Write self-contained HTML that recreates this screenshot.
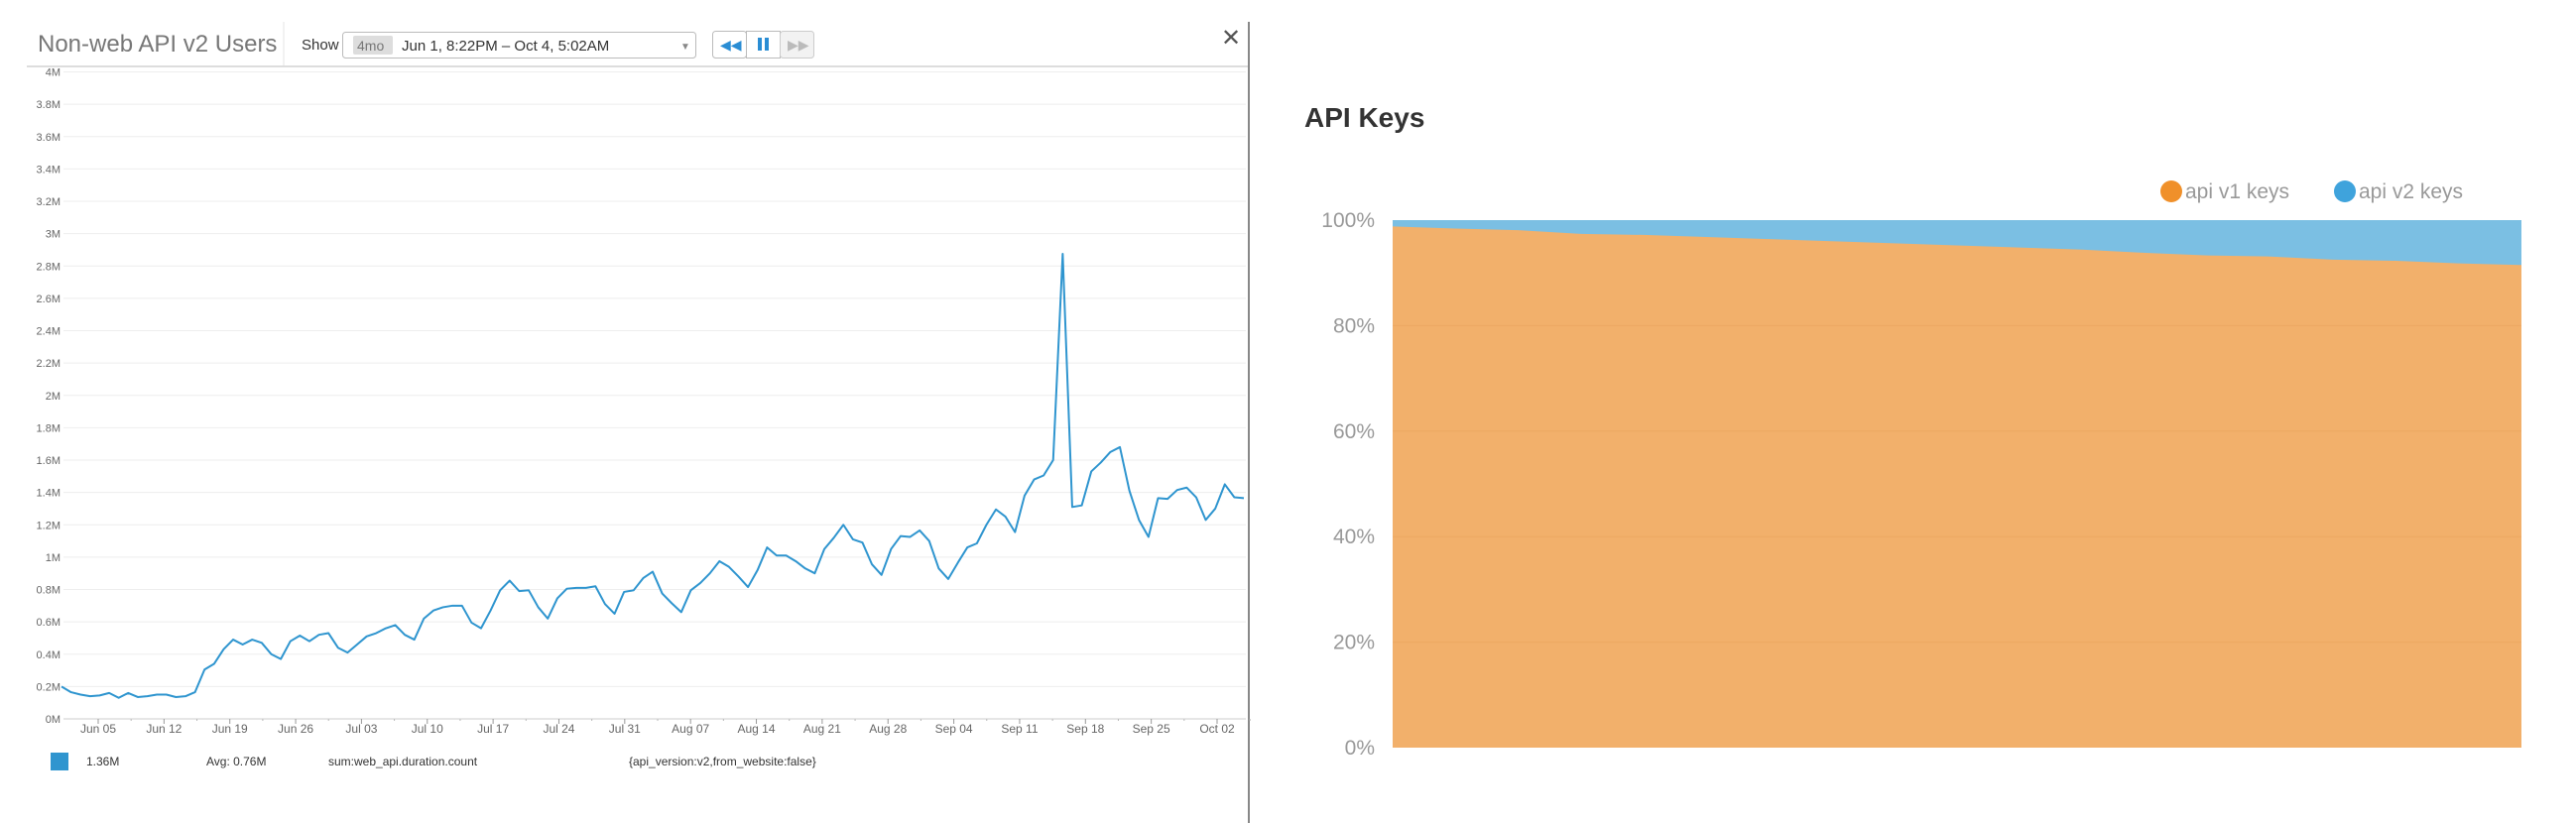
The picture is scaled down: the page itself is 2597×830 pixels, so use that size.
<!DOCTYPE html>
<html><head><meta charset="utf-8"><style>
html,body{margin:0;padding:0;background:#fff;width:2597px;height:830px;overflow:hidden;font-family:"Liberation Sans",sans-serif}
svg{position:absolute;left:0;top:0}
</style></head><body>
<svg id="s" width="2597" height="830">
<g>
<text x="38" y="52" font-size="24" fill="#777">Non-web API v2 Users</text>
<line x1="286" y1="22" x2="286" y2="66" stroke="#e4e4e4"/>
<text x="304" y="50" font-size="15" fill="#333">Show</text>
<rect x="345.5" y="32.5" width="356" height="26" rx="3" fill="#fff" stroke="#bbb"/>
<rect x="356" y="36" width="40" height="19" rx="2" fill="#ddd"/>
<text x="360" y="51" font-size="14" fill="#777">4mo</text>
<text x="405" y="51" font-size="15" fill="#333">Jun 1, 8:22PM – Oct 4, 5:02AM</text>
<text x="686" y="50" font-size="10" fill="#888">▼</text>
<rect x="718.5" y="31.5" width="34" height="27" rx="3" fill="#fff" stroke="#bbb"/>
<text x="726" y="50" font-size="14" fill="#2a8dd4">◀◀</text>
<rect x="752.5" y="31.5" width="34" height="27" fill="#fff" stroke="#bbb"/>
<rect x="764" y="38" width="4" height="13" fill="#2a8dd4"/>
<rect x="771" y="38" width="4" height="13" fill="#2a8dd4"/>
<rect x="786.5" y="31.5" width="34" height="27" rx="3" fill="#f2f2f2" stroke="#ccc"/>
<text x="794" y="50" font-size="14" fill="#bbb">▶▶</text>
<text x="1231" y="46" font-size="24" fill="#555">✕</text>
<line x1="27" y1="67" x2="1259" y2="67" stroke="#ddd" stroke-width="2"/>
<line x1="1259" y1="22" x2="1259" y2="830" stroke="#888" stroke-width="2"/>
</g>
<g id="lc"></g>
<g>
<rect x="51" y="759" width="18" height="18" fill="#2f95cf"/>
<text x="87" y="772" font-size="12" fill="#333">1.36M</text>
<text x="208" y="772" font-size="12" fill="#333">Avg: 0.76M</text>
<text x="331" y="772" font-size="12" fill="#333">sum:web_api.duration.count</text>
<text x="634" y="772" font-size="12" fill="#333">{api_version:v2,from_website:false}</text>
</g>
<text x="1315" y="128" font-size="28" font-weight="bold" fill="#333">API Keys</text>
<g>
<circle cx="2189" cy="193" r="11" fill="#f0902a"/>
<text x="2203" y="200" font-size="21" fill="#999">api v1 keys</text>
<circle cx="2364" cy="193" r="11" fill="#3fa3dc"/>
<text x="2378" y="200" font-size="21" fill="#999">api v2 keys</text>
</g>
<g id="ac"></g>
</svg>
<script>
const NS="http://www.w3.org/2000/svg";
const lineValues=[0.20,0.165,0.15,0.14,0.145,0.16,0.13,0.16,0.135,0.14,0.15,0.15,0.135,0.14,0.165,0.305,0.34,0.43,0.49,0.46,0.49,0.47,0.40,0.37,0.48,0.515,0.48,0.52,0.53,0.44,0.41,0.46,0.51,0.53,0.56,0.58,0.52,0.49,0.62,0.67,0.69,0.70,0.70,0.595,0.56,0.67,0.795,0.855,0.79,0.795,0.69,0.62,0.745,0.805,0.81,0.81,0.82,0.71,0.65,0.785,0.795,0.87,0.91,0.775,0.715,0.66,0.795,0.84,0.90,0.975,0.94,0.88,0.815,0.92,1.06,1.01,1.01,0.975,0.93,0.90,1.05,1.12,1.20,1.11,1.09,0.955,0.89,1.05,1.13,1.125,1.165,1.10,0.93,0.865,0.965,1.06,1.085,1.20,1.295,1.25,1.155,1.38,1.48,1.505,1.60,2.875,1.31,1.32,1.53,1.585,1.65,1.68,1.41,1.23,1.125,1.365,1.36,1.415,1.43,1.37,1.23,1.30,1.45,1.37,1.365];
const yTicks=[0,0.2,0.4,0.6,0.8,1,1.2,1.4,1.6,1.8,2,2.2,2.4,2.6,2.8,3,3.2,3.4,3.6,3.8,4];
const yTickLabels=["0M","0.2M","0.4M","0.6M","0.8M","1M","1.2M","1.4M","1.6M","1.8M","2M","2.2M","2.4M","2.6M","2.8M","3M","3.2M","3.4M","3.6M","3.8M","4M"];
const xTickLabels=["Jun 05","Jun 12","Jun 19","Jun 26","Jul 03","Jul 10","Jul 17","Jul 24","Jul 31","Aug 07","Aug 14","Aug 21","Aug 28","Sep 04","Sep 11","Sep 18","Sep 25","Oct 02"];
const areaV1=[98.8,98.4,98.1,97.4,97.2,96.8,96.4,96.0,95.6,95.2,94.8,94.4,93.8,93.3,93.1,92.5,92.3,91.8,91.5];
const areaTicks=[0,20,40,60,80,100];

function mk(p,tag,a){const e=document.createElementNS(NS,tag);for(const k in a)e.setAttribute(k,a[k]);p.appendChild(e);return e;}
const lc=document.getElementById('lc');
const X0=62,X1=1254,Y0=725,Y1=72.5;
const ly=v=>Y0-(v/4)*(Y0-Y1);
const lx=i=>X0+i*(X1-X0)/(lineValues.length-1);
const TX0=99,TX1=1227;
const tx=k=>TX0+k*(TX1-TX0)/(xTickLabels.length-1);
const wk=(TX1-TX0)/(xTickLabels.length-1);
yTicks.forEach((t,i)=>{
  const g=mk(lc,'line',{x1:64,x2:1256,y1:ly(t),y2:ly(t),stroke:'#eee'});
  
  
  const l=mk(lc,'text',{x:61,y:ly(t)+4,'font-size':11,fill:'#666','text-anchor':'end'});
  l.textContent=yTickLabels[i];
  
  
});
const ax=mk(lc,'line',{x1:64,x2:1256,y1:Y0,y2:Y0,stroke:'#ccc'});


xTickLabels.forEach((s,k)=>{
  const t=mk(lc,'line',{x1:tx(k),x2:tx(k),y1:Y0,y2:Y0+5,stroke:'#999'});
  
  
  const m=mk(lc,'line',{x1:tx(k)+wk/2,x2:tx(k)+wk/2,y1:Y0,y2:Y0+2,stroke:'#bbb'});
  
  
  const l=mk(lc,'text',{x:tx(k),y:739,'font-size':12,fill:'#666','text-anchor':'middle'});
  l.textContent=s;
  
  
});
const pl=mk(lc,'polyline',{points:lineValues.map((v,i)=>lx(i)+','+ly(v)).join(' '),fill:'none',stroke:'#2f95cf','stroke-width':2,'stroke-linejoin':'round'});


const ac=document.getElementById('ac');
const AX0=1404,AX1=2542,AY0=754,AY1=222;
const ay=v=>AY0-(v/100)*(AY0-AY1);
const ax_=i=>AX0+i*(AX1-AX0)/(areaV1.length-1);
const v2=mk(ac,'rect',{x:AX0,y:ay(100),width:AX1-AX0,height:ay(0)-ay(100),fill:'#7bbfe3'});


let d='M'+AX0+','+ay(0);
areaV1.forEach((v,i)=>{d+=' L'+ax_(i)+','+ay(v);});
d+=' L'+AX1+','+ay(0)+' Z';
const v1=mk(ac,'path',{d:d,fill:'#f2b06b'});


areaTicks.forEach(t=>{
  if(t>0&&t<100){const g=mk(ac,'line',{x1:AX0,x2:AX1,y1:ay(t),y2:ay(t),stroke:'#eca862','stroke-width':1});
  
  }
  const l=mk(ac,'text',{x:1386,y:ay(t)+7,'font-size':21,fill:'#999','text-anchor':'end'});
  l.textContent=t+'%';
  
  
});
</script>
</body></html>
